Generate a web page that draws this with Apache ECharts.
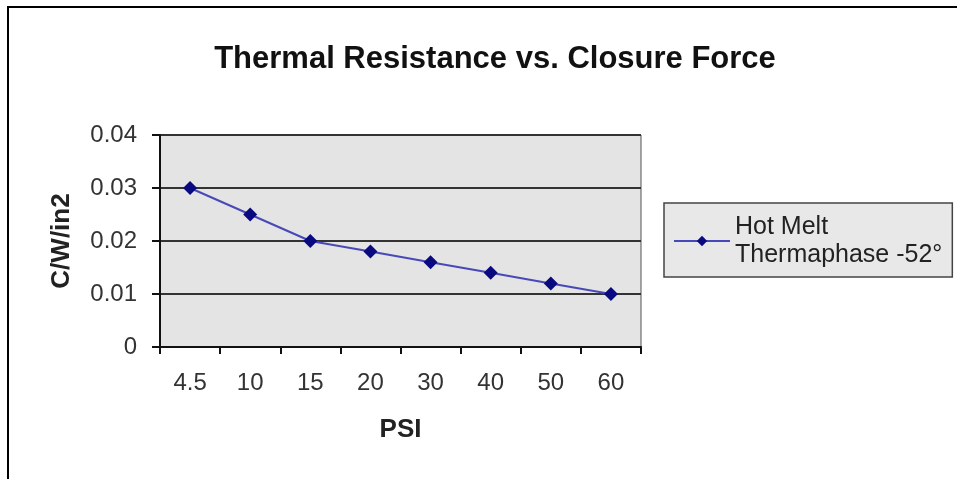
<!DOCTYPE html>
<html>
<head>
<meta charset="utf-8">
<script src="https://cdn.jsdelivr.net/npm/echarts@6/dist/echarts.min.js"></script>
<style>
  html, body { margin: 0; padding: 0; background: #fff; }
  #chart { width: 957px; height: 479px; }
</style>
</head>
<body>
<div id="chart"></div>
<script>
// PSI categories and thermal resistance values
var psi = ["4.5", "10", "15", "20", "30", "40", "50", "60"];
var hotMelt = [0.030, 0.025, 0.020, 0.018, 0.016, 0.014, 0.012, 0.010];
var seriesName = "Hot Melt Thermaphase -52°";

var chart = echarts.init(document.getElementById("chart"));
var font = "Liberation Sans, Arial, sans-serif";

var option = {
  backgroundColor: "#fff",
  animation: false,
  title: {
    text: "Thermal Resistance vs. Closure Force",
    left: 490,
    top: 39,
    textAlign: "center",
    textStyle: { fontFamily: font, fontSize: 31, fontWeight: "bold", color: "#111" }
  },
  graphic: [
    // frame: top and left edges only
    { type: "line", shape: { x1: 7, y1: 7, x2: 957, y2: 7 }, style: { stroke: "#000", lineWidth: 2 } },
    { type: "line", shape: { x1: 8, y1: 7, x2: 8, y2: 479 }, style: { stroke: "#000", lineWidth: 2 } }
  ],
  legend: {
    left: 664,
    top: 203,
    orient: "vertical",
    backgroundColor: "#e8e8e8",
    borderColor: "#444",
    borderWidth: 1.5,
    borderRadius: 0,
    padding: [10, 10, 8, 9],
    itemWidth: 56,
    itemHeight: 13,
    itemGap: 4,
    formatter: function () { return "Hot Melt\nThermaphase -52°"; },
    textStyle: { fontFamily: font, fontSize: 25, color: "#222", lineHeight: 28 },
    data: [seriesName]
  },
  grid: { left: 160, right: 316, top: 135, bottom: 132, show: true,
    backgroundColor: "#e4e4e4", borderColor: "#555", borderWidth: 1 },
  xAxis: {
    type: "category",
    data: psi,
    boundaryGap: true,
    name: "PSI",
    nameLocation: "middle",
    nameGap: 70,
    nameTextStyle: { fontFamily: font, fontSize: 26, fontWeight: "bold", color: "#222" },
    axisLine: { lineStyle: { color: "#111", width: 2 } },
    axisTick: { show: true, length: 7, alignWithLabel: false, lineStyle: { color: "#111", width: 2 } },
    axisLabel: { fontFamily: font, fontSize: 24, color: "#333", margin: 24 },
    splitLine: { show: false }
  },
  yAxis: {
    type: "value",
    min: 0,
    max: 0.04,
    interval: 0.01,
    name: "C/W/in2",
    nameLocation: "middle",
    nameGap: 85,
    nameRotate: 90,
    nameTextStyle: { fontFamily: font, fontSize: 26, fontWeight: "bold", color: "#222" },
    axisLine: { show: true, lineStyle: { color: "#111", width: 2 } },
    axisTick: { show: true, length: 8, lineStyle: { color: "#111", width: 2 } },
    axisLabel: { fontFamily: font, fontSize: 24, color: "#333", margin: 23,
      formatter: function (v) { return v === 0 ? "0" : v.toFixed(2); } },
    splitLine: { show: true, lineStyle: { color: "#333", width: 2 } }
  },
  series: [{
    name: seriesName,
    type: "line",
    data: hotMelt,
    symbol: "diamond",
    symbolSize: 14,
    lineStyle: { color: "#4848b8", width: 2 },
    itemStyle: { color: "#0a0a80" }
  }]
};

chart.setOption(option);
</script>
</body>
</html>
